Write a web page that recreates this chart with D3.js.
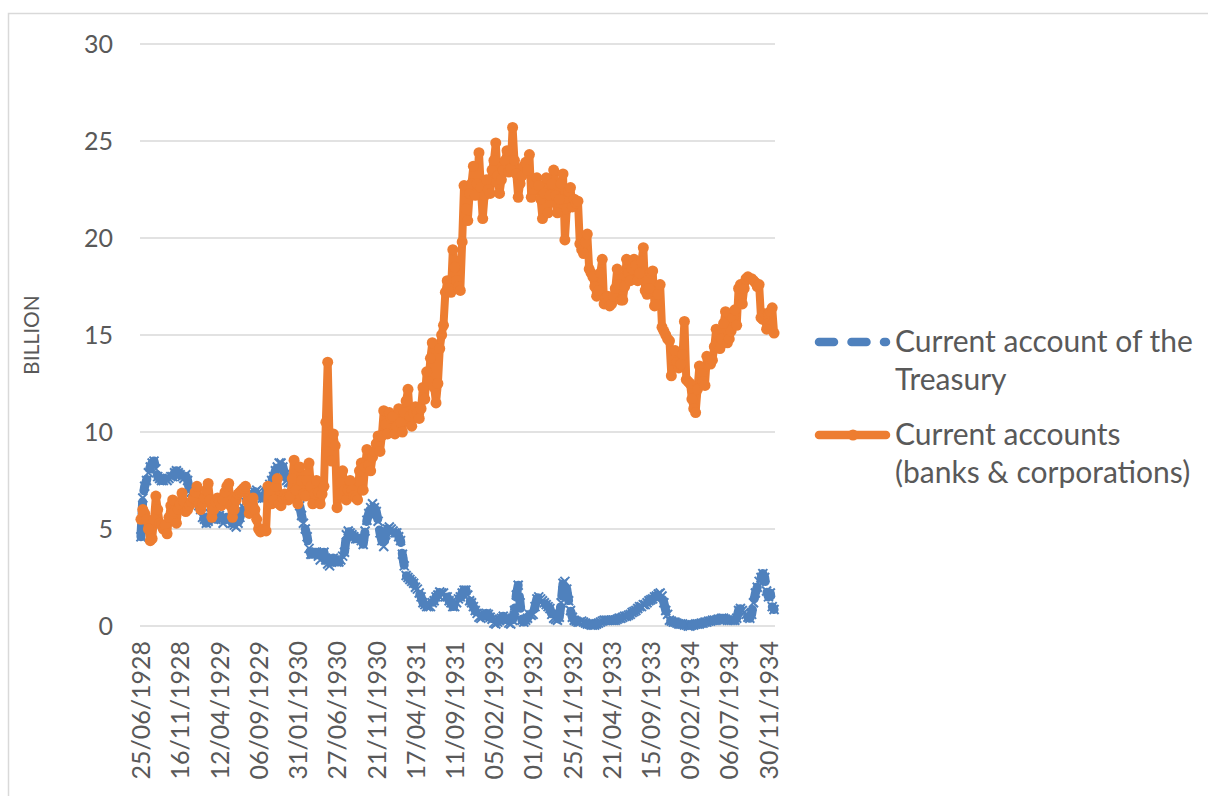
<!DOCTYPE html>
<html>
<head>
<meta charset="utf-8">
<script src="https://cdn.jsdelivr.net/npm/d3@7"></script>
<style>
body { margin: 0; background: #fff; }
svg text { font-family: Lato, "Open Sans", sans-serif; fill: #595959; }
.grid line { stroke: #d9d9d9; stroke-width: 1.3; }
</style>
</head>
<body>
<script>
var width = 1208,
    height = 796;

// tick labels shown on the category axis (every 21st week)
var tickLabels = ["25/06/1928", "16/11/1928", "12/04/1929", "06/09/1929", "31/01/1930",
    "27/06/1930", "21/11/1930", "17/04/1931", "11/09/1931", "05/02/1932", "01/07/1932",
    "25/11/1932", "21/04/1933", "15/09/1933", "09/02/1934", "06/07/1934", "30/11/1934"];

var yTicks = [0, 5, 10, 15, 20, 25, 30];

// weekly values, billion
var treasury = [
    4.6, 6.6, 7.2, 7.5, 7.9, 8.2, 8.4, 8.5, 8.1, 7.7,
    7.6, 7.5, 7.5, 7.6, 7.5, 7.6, 7.7, 7.7, 7.9, 8.0,
    7.9, 7.8, 7.7, 7.6, 7.8, 7.5, 7.0, 6.9, 6.8, 6.6,
    6.5, 6.2, 6.0, 5.6, 5.5, 5.3, 5.4, 5.8, 5.9, 5.8,
    5.5, 5.6, 5.7, 5.5, 5.3, 5.5, 5.6, 5.5, 5.5, 5.3,
    5.2, 5.1, 5.3, 5.6, 5.9, 6.1, 6.4, 6.5, 6.6, 6.7,
    6.8, 6.9, 7.0, 6.9, 6.8, 6.6, 6.6, 6.9, 7.1, 7.3,
    7.5, 7.7, 8.0, 8.2, 8.4, 8.4, 8.2, 7.8, 7.5, 7.4,
    7.4, 7.3, 7.1, 6.9, 6.7, 6.2, 5.7, 5.3, 5.0, 4.6,
    4.0, 3.7, 3.7, 3.8, 3.8, 3.6, 3.4, 3.7, 3.8, 3.4,
    3.2, 3.1, 3.3, 3.5, 3.4, 3.3, 3.3, 3.4, 3.6, 3.8,
    4.7, 4.9, 4.8, 4.7, 4.6, 4.5, 4.5, 4.6, 4.4, 4.2,
    4.9, 5.45, 5.8, 6.1, 6.3, 6.1, 5.9, 5.4, 4.8, 4.4,
    4.1, 4.7, 5.0, 5.1, 5.0, 4.9, 4.8, 4.8, 4.6, 4.4,
    3.7, 3.1, 2.6, 2.5, 2.4, 2.3, 2.2, 2.0, 1.9, 1.7,
    1.5, 1.2, 1.1, 1.0, 1.0, 1.0, 1.2, 1.3, 1.5, 1.6,
    1.75, 1.7, 1.7, 1.5, 1.5, 1.3, 1.2, 1.0, 1.0, 1.2,
    1.4, 1.5, 1.7, 1.85, 1.85, 1.6, 1.3, 1.2, 1.0, 0.8,
    0.65, 0.45, 0.4, 0.5, 0.6, 0.65, 0.6, 0.45, 0.35, 0.15,
    0.1, 0.2, 0.3, 0.4, 0.5, 0.4, 0.3, 0.15, 0.1, 0.3,
    0.8, 1.6, 2.1, 1.2, 0.3, 0.2, 0.3, 0.4, 0.6, 0.55,
    0.6, 1.0, 1.4, 1.5, 1.4, 1.3, 1.2, 1.1, 1.0, 0.9,
    0.6, 0.4, 0.35, 0.3, 0.45, 1.2, 2.2, 2.3, 1.9, 1.3,
    0.8, 0.45, 0.3, 0.25, 0.2, 0.2, 0.25, 0.2, 0.15, 0.1,
    0.1, 0.05, 0.05, 0.05, 0.1, 0.15, 0.2, 0.25, 0.3, 0.3,
    0.3, 0.3, 0.3, 0.3, 0.3, 0.35, 0.4, 0.4, 0.45, 0.5,
    0.5, 0.55, 0.6, 0.7, 0.75, 0.8, 0.9, 1.0, 1.0, 1.1,
    1.1, 1.2, 1.3, 1.35, 1.4, 1.5, 1.55, 1.65, 1.7, 1.55,
    1.2, 0.8, 0.6, 0.3, 0.25, 0.2, 0.2, 0.15, 0.1, 0.1,
    0.1, 0.05, 0.05, 0.0, 0.0, 0.05, 0.05, 0.1, 0.1, 0.1,
    0.15, 0.15, 0.2, 0.2, 0.25, 0.25, 0.3, 0.3, 0.3, 0.35,
    0.35, 0.4, 0.4, 0.35, 0.3, 0.3, 0.3, 0.3, 0.3, 0.4,
    0.8, 0.9, 0.8, 0.7, 0.6, 0.45, 0.4, 0.6, 1.2, 1.7,
    2.0, 2.3, 2.5, 2.7, 2.5, 1.8, 1.5, 1.7, 1.0, 0.85];

var accounts = [
    5.5, 6.0, 5.8, 5.5, 5.0, 4.4, 4.5, 5.5, 6.7, 6.0,
    5.3, 5.2, 5.0, 5.2, 4.75, 5.6, 6.2, 6.5, 5.9, 5.3,
    6.0, 6.3, 6.85, 6.4, 5.9, 6.0, 6.2, 6.4, 6.6, 6.9,
    7.2, 6.3, 6.0, 6.3, 6.6, 7.0, 7.35, 6.5, 5.6, 6.0,
    6.4, 6.6, 6.4, 6.2, 6.5, 6.9, 7.2, 7.35, 6.2, 5.6,
    6.0, 6.5, 6.8, 6.9, 7.0, 7.1, 7.2, 6.4, 5.8, 6.2,
    6.6, 6.0, 5.5, 5.0, 4.85, 4.9, 5.0, 4.9, 7.2, 6.8,
    6.3, 6.5, 7.2, 7.6, 6.3, 6.2, 6.6, 6.8, 6.6, 6.5,
    6.7, 7.6, 8.55, 7.0, 6.3, 8.2, 7.5, 6.8, 6.7, 7.5,
    8.4, 7.2, 6.3, 6.8, 7.5, 6.9, 6.3, 6.8, 7.2, 10.5,
    13.6, 9.5, 8.5, 9.9, 9.3, 6.1, 6.8, 7.4, 8.0, 7.0,
    6.5, 7.0, 7.5, 7.0, 6.7, 6.6, 6.5, 8.0, 8.4, 7.0,
    8.2, 9.1, 8.3, 8.0, 8.7, 9.0, 9.4, 9.8, 9.0, 9.8,
    11.1, 10.4, 9.9, 11.0, 10.7, 10.8, 9.9, 10.3, 11.2, 10.5,
    10.0, 11.0, 11.6, 12.2, 10.8, 10.3, 11.0, 11.3, 11.0, 10.7,
    11.2, 12.3, 11.7, 13.1, 12.6, 13.8, 14.6, 12.3, 11.5, 12.5,
    14.3, 15.0, 15.5, 17.2, 17.8, 17.4, 17.2, 19.4, 18.5, 17.8,
    17.5, 17.3, 19.8, 22.7, 21.5, 20.9, 22.3, 22.8, 23.7, 22.2,
    22.8, 24.4, 22.6, 21.0, 22.2, 23.0, 22.5, 22.3, 23.5, 24.0,
    24.9, 23.2, 22.3, 23.0, 23.5, 24.0, 24.5, 23.4, 23.6, 25.7,
    24.0, 23.3, 22.1, 22.8, 23.2, 23.7, 23.9, 23.5, 24.3, 22.1,
    22.5, 22.8, 23.1, 22.7, 22.0, 21.0, 22.3, 23.1, 21.3, 22.2,
    22.8, 23.5, 22.2, 21.3, 22.0, 22.8, 23.3, 19.9, 21.5, 22.4,
    22.6, 21.6, 22.0, 21.8, 21.9, 19.7, 19.4, 19.2, 19.8, 20.2,
    18.4, 18.2, 18.0, 17.5, 17.0, 17.3, 18.2, 18.9, 16.6, 16.9,
    17.0, 16.5, 16.6, 17.0, 17.4, 18.4, 17.6, 16.8, 16.8, 17.5,
    18.9, 18.2, 17.8, 18.4, 18.9, 18.6, 17.8, 18.2, 18.8, 19.5,
    17.3, 17.1, 17.4, 18.2, 18.3, 16.5, 16.6, 17.1, 17.6, 15.4,
    15.2, 15.0, 14.8, 14.7, 12.9, 13.7, 14.2, 13.6, 13.3, 13.5,
    14.0, 15.7, 12.7, 12.6, 12.5, 11.7, 11.2, 11.0, 12.2, 13.4,
    13.0, 12.6, 12.4, 13.9, 13.8, 13.5, 13.7, 14.4, 15.3, 15.0,
    14.3, 14.8, 15.6, 16.2, 14.6, 14.8, 15.2, 15.9, 16.3, 15.5,
    17.4, 17.6, 16.6, 17.4, 17.9, 18.0, 17.9, 17.9, 17.8, 17.7,
    17.5, 17.6, 15.9, 15.8, 16.1, 15.3, 16.1, 16.2, 16.4, 15.1];

var blue = "#4f81bd", orange = "#ed7d31";

// category dates: 25/06/1928, then every Friday from 29/06/1928
var parseDate = d3.timeParse("%d/%m/%Y"),
    fmt = d3.timeFormat("%d/%m/%Y");
var dates = [parseDate("25/06/1928")];
var firstFriday = parseDate("29/06/1928");
for (var k = 1; k < accounts.length; k++) dates.push(d3.timeDay.offset(firstFriday, 7 * (k - 1)));
var cats = dates.map(fmt);

var svg = d3.select("body").append("svg")
    .attr("width", width)
    .attr("height", height);

// chart frame
svg.append("rect")
    .attr("x", 8.5).attr("y", 13.5)
    .attr("width", width).attr("height", height)
    .attr("fill", "none")
    .attr("stroke", "#d9d9d9")
    .attr("stroke-width", 1.5);

var x = d3.scalePoint()
    .domain(cats)
    .range([140, 775])
    .padding(0.5);

var y = d3.scaleLinear()
    .domain([0, 30])
    .range([626, 44]);

//gridlines
svg.append("g")
    .attr("class", "grid")
    .selectAll("line")
    .data(yTicks)
    .enter()
    .append("line")
    .attr("x1", 140).attr("x2", 775)
    .attr("y1", function(d) { return y(d); })
    .attr("y2", function(d) { return y(d); });

//y axis
var yAxis = svg.append("g")
    .attr("transform", "translate(113,0)")
    .call(d3.axisLeft(y).tickValues(yTicks).tickSize(0).tickPadding(0));
yAxis.select(".domain").remove();
yAxis.selectAll("text")
    .style("font-size", "25px")
    .attr("fill", "#595959");

svg.append("text")
    .attr("transform", "translate(39,335) rotate(-90)")
    .attr("text-anchor", "middle")
    .style("font-size", "21px")
    .text("BILLION");

//x axis
var xAxis = svg.append("g")
    .attr("transform", "translate(0," + y(0) + ")")
    .call(d3.axisBottom(x).tickValues(tickLabels).tickSize(0));
xAxis.select(".domain").remove();
xAxis.selectAll("text")
    .attr("transform", "rotate(-90)")
    .attr("x", -15)
    .attr("y", 0)
    .attr("dy", ".35em")
    .style("text-anchor", "end")
    .style("font-size", "25px")
    .attr("fill", "#595959");

var line = d3.line()
    .x(function(d, i) { return x(cats[i]); })
    .y(function(d) { return y(d); });

// treasury: dashed with x markers
svg.append("g")
    .selectAll("path")
    .data(treasury)
    .enter()
    .append("path")
    .attr("d", function(d, i) {
        var cx = x(cats[i]), cy = y(d), s = 4.5;
        return "M" + (cx - s) + "," + (cy - s) + "L" + (cx + s) + "," + (cy + s) +
            "M" + (cx - s) + "," + (cy + s) + "L" + (cx + s) + "," + (cy - s);
    })
    .attr("stroke", blue)
    .attr("stroke-width", 2);

svg.append("path")
    .datum(treasury)
    .attr("d", line)
    .attr("fill", "none")
    .attr("stroke", blue)
    .attr("stroke-width", 9)
    .attr("stroke-linecap", "round")
    .attr("stroke-linejoin", "round")
    .attr("stroke-dasharray", "12,11");

// bank accounts: solid with round markers
svg.append("path")
    .datum(accounts)
    .attr("d", line)
    .attr("fill", "none")
    .attr("stroke", orange)
    .attr("stroke-width", 8)
    .attr("stroke-linejoin", "round");

svg.append("g")
    .selectAll("circle")
    .data(accounts)
    .enter()
    .append("circle")
    .attr("cx", function(d, i) { return x(cats[i]); })
    .attr("cy", function(d) { return y(d); })
    .attr("r", 5.5)
    .attr("fill", orange);

//legend
var legend = svg.append("g");
legend.append("line")
    .attr("x1", 819).attr("x2", 886)
    .attr("y1", 342).attr("y2", 342)
    .attr("stroke", blue)
    .attr("stroke-width", 8.5)
    .attr("stroke-linecap", "round")
    .attr("stroke-dasharray", "15,17.5");
legend.append("line")
    .attr("x1", 819).attr("x2", 886)
    .attr("y1", 435).attr("y2", 435)
    .attr("stroke", orange)
    .attr("stroke-width", 8.5)
    .attr("stroke-linecap", "round");
legend.append("circle")
    .attr("cx", 853).attr("cy", 435).attr("r", 5.5)
    .attr("fill", orange);

var legendLines = [["Current account of the", "Treasury"], ["Current accounts", "(banks & corporations)"]];
legendLines.forEach(function(lines, j) {
    legend.append("text")
        .attr("x", 895)
        .attr("y", j === 0 ? 352 : 445)
        .style("font-size", "30px")
        .selectAll("tspan")
        .data(lines)
        .enter()
        .append("tspan")
        .attr("x", 895)
        .attr("dy", function(d, i) { return i === 0 ? 0 : 38; })
        .text(function(d) { return d; });
});
</script>
</body>
</html>
